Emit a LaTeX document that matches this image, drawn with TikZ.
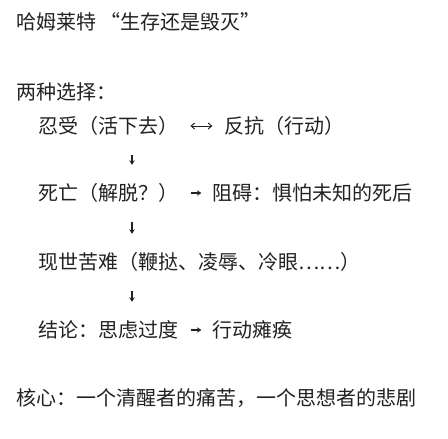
\documentclass[tikz,border=0pt]{standalone}
\usepackage{fontspec}
\setmainfont{Noto Sans CJK SC}
\usetikzlibrary{positioning, arrows.meta}
\definecolor{ink}{HTML}{222222}

\begin{document}
\begin{tikzpicture}[
    x=1pt, y=-1pt,
    node distance=34pt,
    item/.style={anchor=west, inner sep=0pt, text=ink, text height=17pt, text depth=3pt, font=\fontsize{20pt}{24pt}\selectfont},
    vflow/.style={draw=ink, line width=1.1pt, -{Stealth[length=4.5pt, width=5.5pt]}, shorten <=19pt, shorten >=18pt},
    hflow/.style={draw=ink, line width=1.1pt, -{Stealth[length=4.5pt, width=5.5pt]}, shorten <=13pt, shorten >=11pt},
    swap/.style={draw=ink, line width=1pt, {Straight Barb[length=3.5pt, width=6pt, line width=1pt]}-{Straight Barb[length=3.5pt, width=6pt, line width=1pt]}, shorten <=12pt, shorten >=12pt}
]

% frame
\useasboundingbox[fill=white] (0,0) rectangle (448,439);
\coordinate (col) at (132,0);

% title and heading
\node[item] (title) at (16,22) {哈姆莱特 “生存还是毁灭”};
\node[item] (choice) at (16,92) {两种选择：};

% the two ways
\node[item] (endure) at (38,126) {忍受（活下去）};
\node[item, right=46pt of endure] (resist) {反抗（行动）};

% death
\node[item] (death) at (38,193) {死亡（解脱？）};
\node[item, right=of death] (fear) {阻碍：惧怕未知的死后};

% suffering
\node[item] (pain) at (38,262) {现世苦难（鞭挞、凌辱、冷眼……）};

% conclusion
\node[item] (result) at (38,330) {结论：思虑过度};
\node[item, right=of result] (freeze) {行动瘫痪};

% core
\node[item] (core) at (16,398) {核心：一个清醒者的痛苦，一个思想者的悲剧};

% links
\draw[swap] (endure) -- (resist);
\draw[hflow] (death) -- (fear);
\draw[hflow] (result) -- (freeze);
\draw[vflow] (endure.south -| col) -- (death.north -| col);
\draw[vflow] (death.south -| col) -- (pain.north -| col);
\draw[vflow] (pain.south -| col) -- (result.north -| col);

\end{tikzpicture}
\end{document}
